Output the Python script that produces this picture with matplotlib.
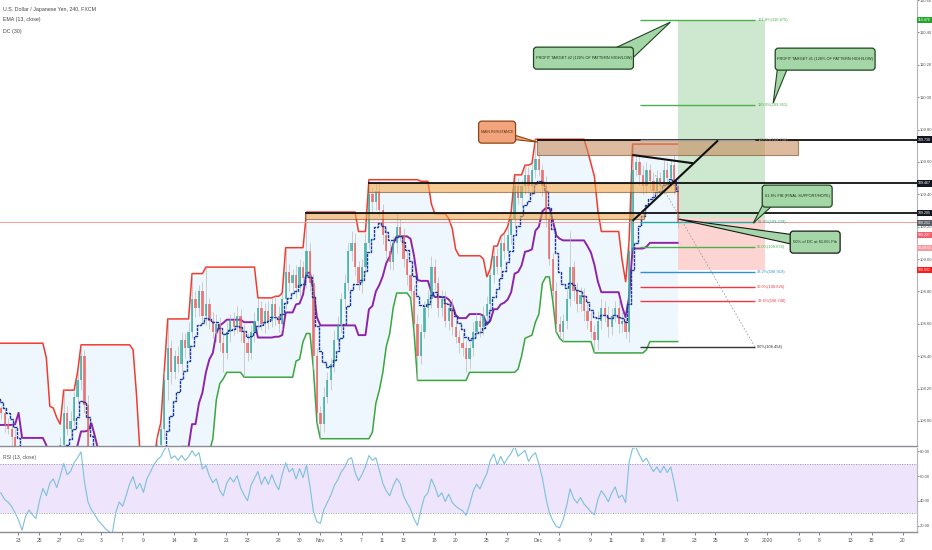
import numpy as np
import pandas as pd
import matplotlib
matplotlib.use("Agg")
import matplotlib.pyplot as plt
from matplotlib.patches import Rectangle, FancyBboxPatch, Polygon
from matplotlib.ticker import MultipleLocator, FormatStrFormatter
from matplotlib.transforms import blended_transform_factory
from matplotlib import font_manager

# USDJPY, 8h bars (first 15 bars are warm-up, left of the view)
closes = [
    107.80, 107.70, 107.60, 107.55, 107.52, 107.65, 107.80, 107.95, 108.05, 108.10, 108.15, 108.20, 108.30, 108.35, 108.08,
    108.05, 107.98, 107.95, 107.90, 107.82, 107.70, 107.45, 107.55, 107.60, 107.52, 107.45, 107.58, 107.70, 107.62,
    107.75, 107.80, 107.72, 107.85, 108.05, 107.95, 108.00, 108.15, 108.25, 108.40, 108.10, 107.75, 107.55, 107.40,
    107.20, 107.05, 106.85, 106.70, 106.55, 106.80, 106.95, 106.85, 107.00, 107.20, 107.35, 107.15, 107.25, 107.10,
    107.35, 107.50, 107.70, 107.85, 107.95, 108.25, 108.45, 108.30, 108.40, 108.35, 108.50, 108.45, 108.55, 108.75,
    108.70, 108.80, 108.65, 108.72, 108.62, 108.55, 108.60, 108.48, 108.42, 108.55, 108.62, 108.58, 108.65, 108.55,
    108.48, 108.42, 108.55, 108.62, 108.70, 108.60, 108.68, 108.62, 108.72, 108.65, 108.60, 108.75, 108.92, 108.85,
    108.90, 108.82, 108.95, 108.88, 109.05, 108.85, 108.40, 108.05, 107.98, 108.15, 108.25, 108.35, 108.50, 108.60,
    108.75, 108.85, 109.05, 109.10, 108.95, 108.85, 108.95, 109.10, 109.40, 109.35, 109.42, 109.30, 109.15, 109.05,
    108.98, 109.10, 109.20, 109.15, 109.00, 108.90, 108.80, 108.60, 108.40, 108.55, 108.70, 108.75, 108.95, 108.85,
    108.70, 108.75, 108.62, 108.70, 108.58, 108.52, 108.48, 108.45, 108.38, 108.45, 108.55, 108.62, 108.58, 108.65,
    108.72, 108.90, 109.02, 108.95, 109.10, 109.05, 109.15, 109.25, 109.45, 109.38, 109.45, 109.52, 109.45, 109.55,
    109.62, 109.55, 109.45, 109.25, 109.00, 108.80, 108.60, 108.55, 108.62, 108.75, 108.95, 108.80, 108.72, 108.78,
    108.68, 108.62, 108.55, 108.50, 108.62, 108.70, 108.65, 108.58, 108.65, 108.70, 108.60, 108.62, 108.55, 109.05,
    109.55, 109.60, 109.52, 109.45, 109.55, 109.48, 109.42, 109.50, 109.45, 109.55, 109.50, 109.58, 109.45, 109.23,
]
# wick lengths in pips above / below the candle body
wick_up = [
    4, 5, 3, 6, 4, 5, 7, 4, 6, 5, 4, 6, 5, 13, 4,
    1, 3, 4, 3, 5, 4, 6, 3, 5, 4, 6, 3, 4, 5,
    3, 4, 3, 5, 14, 4, 6, 3, 5, 7, 4, 6, 5, 4,
    6, 5, 5, 4, 6, 5, 7, 4, 6, 5, 4, 6, 5, 7,
    4, 5, 6, 5, 4, 6, 18, 5, 4, 6, 5, 4, 6, 16,
    5, 4, 6, 23, 4, 5, 6, 4, 5, 6, 4, 5, 6, 4,
    5, 6, 4, 5, 6, 4, 5, 6, 4, 5, 6, 4, 15, 5,
    4, 6, 5, 4, 24, 5, 6, 5, 4, 6, 5, 4, 6, 5,
    4, 6, 5, 7, 6, 4, 5, 6, 9, 4, 5, 6, 4, 5,
    6, 4, 8, 5, 4, 6, 5, 4, 6, 5, 4, 6, 7, 5,
    4, 6, 5, 4, 6, 5, 4, 6, 5, 4, 6, 5, 4, 6,
    5, 4, 6, 5, 4, 6, 5, 4, 7, 5, 4, 6, 5, 4,
    12, 5, 4, 6, 5, 4, 6, 5, 4, 6, 22, 4, 6, 5,
    4, 6, 5, 4, 6, 5, 4, 6, 5, 4, 6, 5, 4, 6,
    16, 5, 4, 6, 5, 4, 6, 5, 4, 6, 5, 4, 6, 5,
]
wick_dn = [
    5, 4, 6, 3, 5, 4, 3, 5, 4, 6, 3, 4, 5, 4, 6,
    4, 5, 3, 6, 4, 5, 14, 4, 6, 3, 5, 4, 6, 3,
    5, 4, 6, 5, 6, 4, 5, 3, 4, 6, 5, 7, 5, 6,
    4, 6, 5, 7, 7, 5, 6, 4, 5, 6, 4, 5, 6, 4,
    5, 4, 6, 5, 4, 6, 12, 7, 4, 5, 4, 6, 5, 4,
    6, 5, 4, 6, 5, 4, 6, 5, 12, 4, 6, 5, 4, 6,
    21, 5, 4, 6, 5, 4, 6, 5, 4, 6, 5, 4, 6, 5,
    4, 6, 5, 4, 6, 5, 8, 6, 9, 5, 4, 6, 5, 4,
    6, 5, 4, 6, 5, 4, 6, 5, 4, 6, 5, 4, 6, 5,
    4, 5, 6, 4, 5, 6, 4, 5, 15, 5, 4, 6, 5, 4,
    6, 5, 4, 6, 5, 4, 6, 5, 8, 6, 5, 4, 6, 5,
    4, 6, 5, 4, 6, 5, 4, 6, 5, 4, 6, 5, 4, 6,
    5, 4, 6, 5, 4, 6, 5, 4, 6, 5, 4, 6, 5, 4,
    6, 5, 4, 8, 6, 5, 4, 6, 5, 4, 6, 5, 4, 6,
    5, 4, 6, 5, 4, 6, 5, 4, 6, 5, 4, 6, 5, 4,
]
N_WARMUP = 15

# time axis in trading days (0 = Sep 23)
tick_days = [0, 2, 4, 6, 8, 10, 12, 15, 17, 20, 22, 25, 27, 29, 31, 33, 35, 37, 40,
             42, 45, 47, 50, 52, 55, 57, 60, 62, 65, 67, 70, 72, 75, 77, 80, 82, 85]
tick_labels = ["23", "25", "27", "Oct", "3", "7", "9", "14", "16", "21", "23", "28", "30",
               "Nov", "5", "7", "11", "13", "18", "20", "25", "27", "Dec", "4", "9", "11",
               "16", "18", "23", "25", "30", "2020", "6", "8", "13", "15", "20"]

# fib extension levels
fib_names = ["161.8%", "120.0%", "100.0%", "61.8%", "50.0%", "38.2%", "30.0%", "23.6%", "0.0%"]
fib_prices = [110.476, 109.951, 109.738, 109.229, 109.074, 108.919, 108.826, 108.740, 108.454]
fib_colors = ["#4caf50", "#4caf50", "#9e9e9e", "#26a69a", "#4caf50", "#2f8fd0", "#f23645", "#f23645", "#333333"]

# support / resistance lines and zones
sr_prices = [109.738, 109.467, 109.285]
sr_start = [49.9, 33.6, 27.6]
zone_top = [109.738, 109.467, 109.285]
zone_bot = [109.642, 109.413, 109.246]
zone_start = [49.9, 33.6, 27.6]
zone_end = [74.95, 63.1, 60.1]

entry, target, stop = 109.251, 110.476, 108.932
last_price = 109.227

# right axis price tags: text, position, colour
tag_text = ["110.476", "109.738", "109.467", "109.285", "109.251", "109.227", "00:49:55", "108.932"]
tag_pos = [110.476, 109.738, 109.467, 109.285, 109.220, 109.150, 109.070, 108.932]
tag_color = ["#22a52c", "#131722", "#131722", "#131722", "#5d606b", "#f0616c", "#f59aa0", "#ff1a1a"]

EMA_LEN, RSI_LEN, DC_LEN = 7, 7, 15   # 13 / 13 / 30 on 4h ~ half on 8h bars

names = {f.name for f in font_manager.fontManager.ttflist}
narrow = "Liberation Sans Narrow" if "Liberation Sans Narrow" in names else "Liberation Sans"
plt.rcParams["font.family"] = [narrow, "DejaVu Sans"]

# ---- indicators
c = pd.Series(closes)
o = c.shift(1).fillna(c.iloc[0])
hi = np.maximum(o, c) + np.array(wick_up) / 100
lo = np.minimum(o, c) - np.array(wick_dn) / 100
upper = hi.rolling(DC_LEN).max()
lower = lo.rolling(DC_LEN).min()
mid = (upper + lower) / 2
ema = c.ewm(span=EMA_LEN, adjust=False).mean()
delta = c.diff()
gain = delta.clip(lower=0).ewm(alpha=1 / RSI_LEN, adjust=False).mean()
loss = (-delta.clip(upper=0)).ewm(alpha=1 / RSI_LEN, adjust=False).mean()
rsi = 100 - 100 / (1 + gain / loss)

days = -1.63 + (np.arange(len(closes)) - N_WARMUP) / 3.0
XMIN, XMAX = -1.75, 86.37

W, H = 932, 550
fig = plt.figure(figsize=(W / 100, H / 100), dpi=100)
ax = fig.add_axes([0, 104 / H, 917 / W, 446 / H])
ax2 = fig.add_axes([0, 18 / H, 917 / W, 84 / H], sharex=ax)


# screen pixel -> chart coords (for the hand-drawn drawings)
def dx(px):
    return (px - 17) / 10.42


def py(pyx):
    return 110 - (pyx - 97) / 161.9


# ---- Donchian channel
ax.fill_between(days, lower, upper, color="#2196f3", alpha=0.07, lw=0, zorder=1)
ax.plot(days, upper, color="#f23b2f", lw=1.1, zorder=2)
ax.plot(days, lower, color="#3aa63f", lw=1.1, zorder=2)
ax.plot(days, mid, color="#8e24aa", lw=1.4, zorder=2)

# ---- candles
up = c >= o
col = np.where(up, "#26a69a", "#ef5350")
ax.vlines(days, lo, hi, colors="#b8b8b8", lw=0.6, alpha=0.8, zorder=3)
body = np.maximum((c - o).abs(), 0.006)
ax.bar(days, body, bottom=np.minimum(o, c), width=0.22, color=col, alpha=0.7, lw=0, zorder=3)

# ---- EMA
ax.plot(days, ema, color="#1a3a9c", lw=1.0, drawstyle="steps-mid", zorder=4,
        linestyle=(0, (2.2, 0.6)))

# last price line
ax.axhline(last_price, color="#f28b82", lw=0.6, zorder=2)

# ---- zones and lines
zone_fc = ["#c98c5e", "#f5a94e", "#f5a94e"]
for zt, zb, zs, ze, fc in zip(zone_top, zone_bot, zone_start, zone_end, zone_fc):
    ax.add_patch(Rectangle((zs, zb), ze - zs, zt - zb, fc=fc, alpha=0.6, ec="#7a4a20", lw=0.8, zorder=5))
ax.hlines(sr_prices, sr_start, XMAX, colors="#111111", lw=1.3, zorder=6)

# position tool
px0, px1 = dx(678), dx(765)
ax.add_patch(Rectangle((px0, entry), px1 - px0, target - entry, fc="#4caf50", alpha=0.28, lw=0, zorder=1.5))
ax.add_patch(Rectangle((px0, stop), px1 - px0, entry - stop, fc="#f44336", alpha=0.22, lw=0, zorder=1.5))

# fib levels
fib_x0, fib_x1 = dx(640), dx(755)
for name, p, fc in zip(fib_names, fib_prices, fib_colors):
    ax.hlines(p, fib_x0, fib_x1, colors=fc, lw=1.0, zorder=6)
    ax.text(fib_x1 + 0.2, p, f"{name}({p:.3f})", color=fc, fontsize=2.9, va="center", ha="left", zorder=7)
ax.plot([dx(655), fib_x1], [py(175), 108.454], color="#9e9e9e", lw=0.6, ls=(0, (2, 2)), zorder=6)

# trend lines
ax.plot([dx(633), dx(692)], [py(155), py(163)], color="#111111", lw=1.5, zorder=6)
ax.plot([dx(633), dx(717)], [py(220), py(141)], color="#111111", lw=1.5, zorder=6)


# ---- callouts: box (pixel rect) + wedge pointer
ASPECT = (1 / 161.9) / (1 / 10.42)


def callout(text, box, base, tip, fc, ec, tc, fs):
    x0, y0, x1, y1 = box
    ax.add_patch(Polygon([(dx(base[0][0]), py(base[0][1])), (dx(tip[0]), py(tip[1])),
                          (dx(base[1][0]), py(base[1][1]))],
                         closed=True, fc=fc, ec=ec, lw=0.8, zorder=8, clip_on=False))
    ax.add_patch(FancyBboxPatch((dx(x0), py(y1)), dx(x1) - dx(x0), py(y0) - py(y1),
                                boxstyle="round,pad=0,rounding_size=0.3", mutation_aspect=ASPECT,
                                fc=fc, ec=ec, lw=0.9, zorder=9, clip_on=False))
    ax.text(dx((x0 + x1) / 2), py((y0 + y1) / 2), text, fontsize=fs, color=tc,
            ha="center", va="center", zorder=10)


green_fc, green_ec, green_tc = "#a5d6a7", "#1e4620", "#1b301b"
callout("PROFIT TARGET #2 (120% OF PATTERN HIGH/LOW)", (533, 47, 633, 69),
        [(606, 52), (628, 62)], (670, 22), green_fc, green_ec, green_tc, 2.75)
callout("PROFIT TARGET #1 (120% OF PATTERN HIGH/LOW)", (775, 48, 875, 70),
        [(778, 62), (789, 64)], (773, 103), green_fc, green_ec, green_tc, 2.75)
callout("MAIN RESISTANCE", (478, 121, 515, 143),
        [(504, 132), (510, 139)], (537, 142), "#f2a57c", "#8b4513", "#5a2a10", 2.6)
callout("61.8% FIB (FINAL SUPPORT/HOPE)", (762, 185, 832, 207),
        [(766, 198), (777, 201)], (753, 223), green_fc, green_ec, green_tc, 2.8)
callout("50% of DC at 61.8% Fib", (790, 231, 840, 253),
        [(796, 235), (796, 245)], (678, 219), green_fc, "#1a1a1a", green_tc, 3.0)

# ---- main axes styling
ax.set_xlim(XMIN, XMAX)
ax.set_ylim(107.845, 110.60)
ax.yaxis.tick_right()
ax.yaxis.set_major_locator(MultipleLocator(0.2))
ax.yaxis.set_major_formatter(FormatStrFormatter("%.2f"))
ax.tick_params(axis="y", labelsize=3.0, colors="#555555", length=1.5, width=0.5, pad=0.5)
ax.tick_params(axis="x", bottom=False, labelbottom=False)
for s in ["top", "left"]:
    ax.spines[s].set_visible(False)
ax.spines["right"].set_color("#b2b5be")
ax.spines["bottom"].set_color("#8a8d96")
ax.spines["bottom"].set_linewidth(1.0)

trans = blended_transform_factory(ax.transAxes, ax.transData)
for t, p, fc in zip(tag_text, tag_pos, tag_color):
    ax.text(1.001, p, t, transform=trans, ha="left", va="center", fontsize=2.6, color="white",
            bbox=dict(boxstyle="square,pad=0.3", fc=fc, ec="none"), clip_on=False, zorder=10)

# ---- RSI pane
ax2.fill_between([XMIN, XMAX], 30, 70, color="#e9ddfb", alpha=0.75, lw=0)
ax2.axhline(70, color="#9a9aa6", lw=0.7, ls=(0, (1, 1.5)))
ax2.axhline(30, color="#9a9aa6", lw=0.7, ls=(0, (1, 1.5)))
ax2.plot(days, rsi, color="#7cc0de", lw=0.8)
ax2.set_ylim(14.8, 82.6)
ax2.yaxis.tick_right()
ax2.set_yticks([20, 40, 60, 80])
ax2.yaxis.set_major_formatter(FormatStrFormatter("%.2f"))
ax2.tick_params(axis="y", labelsize=3.0, colors="#555555", length=1.5, width=0.5, pad=0.5)
ax2.set_xticks(tick_days)
ax2.set_xticklabels(tick_labels)
ax2.tick_params(axis="x", labelsize=3.6, colors="#555555", length=2, width=0.5, pad=2)
for s in ["top", "left"]:
    ax2.spines[s].set_visible(False)
ax2.spines["right"].set_color("#b2b5be")
ax2.spines["bottom"].set_color("#8a8d96")
ax2.spines["bottom"].set_linewidth(1.0)

# ---- pane titles
fig.text(3 / W, 1 - 10 / H, "U.S. Dollar / Japanese Yen, 240, FXCM", fontsize=3.8, color="#444444", va="center")
fig.text(3 / W, 1 - 20 / H, "EMA (13, close)", fontsize=3.8, color="#444444", va="center")
fig.text(3 / W, 1 - 31 / H, "DC (30)", fontsize=3.8, color="#444444", va="center")
fig.text(3 / W, 1 - 458 / H, "RSI (13, close)", fontsize=3.6, color="#555555", va="center")

fig.savefig("out.png", dpi=100)
